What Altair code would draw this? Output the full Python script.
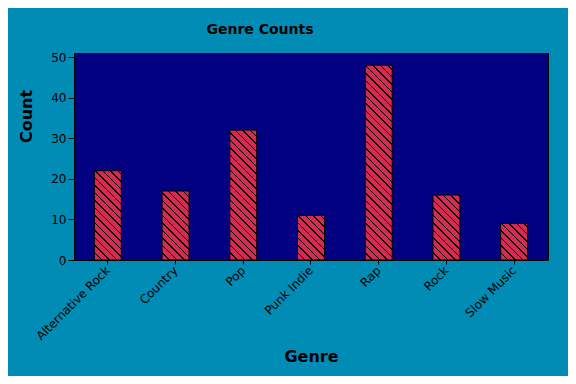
import altair as alt
import pandas as pd

genres = ["Alternative Rock", "Country", "Pop", "Punk Indie", "Rap", "Rock", "Slow Music"]
counts = [22, 17, 32, 11, 48, 16, 9]

df = pd.DataFrame({"Genre": genres, "Count": counts})

PLOT_W, PLOT_H = 474, 207
Y_MAX = 51
BAR_W = 27
BAR_COLOR = "#d42b50"
HATCH = 7.5      # horizontal period of the hatch lines (px)
LINE_W = 1.5     # horizontal thickness of hatch lines (px)


def hatch_gradient(value):
    """Linear gradient giving '\\\\' hatch lines at 45 degrees inside a bar."""
    w = float(BAR_W)
    h = value * PLOT_H / Y_MAX
    k = w * (w + h) / (w * w + h * h)
    span = w + h
    stops = [{"offset": 0, "color": BAR_COLOR}]
    n = int(span // HATCH) + 1
    for i in range(1, n + 1):
        c = i * HATCH
        a = (c - LINE_W / 2) / span
        b = (c + LINE_W / 2) / span
        if a >= 1:
            break
        b = min(b, 1)
        stops += [
            {"offset": a, "color": BAR_COLOR},
            {"offset": a, "color": "black"},
            {"offset": b, "color": "black"},
            {"offset": b, "color": BAR_COLOR},
        ]
    stops.append({"offset": 1, "color": BAR_COLOR})
    return {"gradient": "linear", "x1": 0, "y1": 1, "x2": k, "y2": 1 - k * h / w,
            "stops": stops}


conds = [{"test": f"datum.Genre === '{g}'", "value": hatch_gradient(v)}
         for g, v in zip(genres, counts)]
fill_def = {"condition": conds, "value": BAR_COLOR}

chart = alt.Chart(df).mark_bar(
    size=BAR_W, stroke="black", strokeWidth=1
).encode(
    x=alt.X("Genre:N", sort=genres,
            scale=alt.Scale(paddingInner=0.6, paddingOuter=0.3),
            axis=alt.Axis(title="Genre", labelAngle=-45, labelAlign="right",
                          labelBaseline="middle", labelPadding=4, tickSize=4,
                          domain=False, titleY=101, titleBaseline="alphabetic")),
    y=alt.Y("Count:Q", scale=alt.Scale(domain=[0, Y_MAX], nice=False),
            axis=alt.Axis(title="Count", values=[0, 10, 20, 30, 40, 50],
                          tickSize=6, labelPadding=2, domain=False, grid=False,
                          titleX=-43, titleY=63, titleAngle=-90,
                          titleAlign="center", titleBaseline="alphabetic")),
    fill=fill_def,
).properties(
    width=PLOT_W,
    height=PLOT_H,
    title=alt.TitleParams("Genre Counts", anchor="middle", frame="group",
                          dx=-51, offset=14, fontSize=14, font="DejaVu Sans",
                          fontWeight="bold", color="black"),
    background="#008cb4",
    padding={"left": 66, "top": 45, "right": 20, "bottom": 116},
    autosize=alt.AutoSizeParams(type="none"),
).configure_view(
    fill="#000080", stroke="black", strokeWidth=1
).configure_axis(
    labelFont="DejaVu Sans", labelFontSize=12, labelColor="black",
    tickColor="black", titleFont="DejaVu Sans", titleFontSize=16,
    titleFontWeight="bold", titleColor="black", grid=False
)

chart.save("out.html", embed_options={"renderer": "svg", "actions": False})
